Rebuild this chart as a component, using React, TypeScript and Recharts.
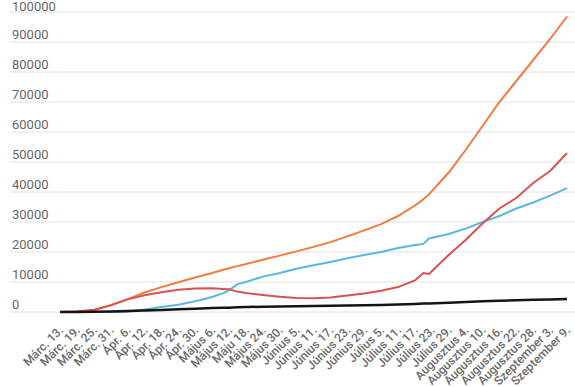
import { CartesianGrid, Line, LineChart, XAxis, YAxis } from 'recharts';

// napok Márc. 13-tól számolva
const days = [0, 6, 12, 18, 24, 30, 36, 42, 48, 54, 58, 60, 63, 66, 72, 78, 84, 90, 96, 102, 108, 114, 120, 126, 129, 131, 138, 144, 150, 156, 162, 168, 174, 180];

const osszes = [0, 150, 700, 2300, 4300, 6500, 8300, 9900, 11500, 13000, 14100, 14600, 15300, 16000, 17400, 18800, 20200, 21700, 23300, 25200, 27200, 29300, 32000, 35500, 37600, 39200, 46500, 54000, 62000, 70000, 77000, 84000, 91000, 98500];
const aktiv = [0, 150, 700, 2200, 4200, 5600, 6600, 7400, 7800, 7900, 7700, 7600, 6800, 6300, 5700, 5100, 4700, 4600, 4800, 5500, 6200, 7100, 8300, 10500, 13000, 12700, 19000, 24000, 29500, 34500, 38000, 43000, 47000, 53000];
const gyogyult = [0, 0, 0, 0, 100, 800, 1700, 2400, 3600, 5000, 6300, 7200, 9300, 10000, 11800, 13000, 14400, 15600, 16700, 17900, 19000, 20000, 21300, 22300, 22700, 24500, 26000, 27800, 30000, 32000, 34500, 36500, 38800, 41300];
const elhunyt = [0, 0, 100, 200, 350, 500, 700, 900, 1100, 1300, 1400, 1450, 1550, 1650, 1750, 1850, 1950, 2000, 2050, 2150, 2250, 2350, 2500, 2700, 2800, 2850, 3100, 3300, 3550, 3750, 3900, 4050, 4200, 4350];

const tickLabels = [
  'Márc. 13.', 'Márc. 19.', 'Márc. 25.', 'Márc. 31.', 'Ápr. 6.', 'Ápr. 12.', 'Ápr. 18.', 'Ápr. 24.', 'Ápr. 30.',
  'Május 6.', 'Május 12.', 'Máju 18.', 'Május 24.', 'Május 30.', 'Június 5.', 'Június 11.', 'Június 17.', 'Június 23.',
  'Június 29.', 'Július 5.', 'Július 11.', 'Július 17.', 'Július 23.', 'Július 29.', 'Augusztus 4.', 'Augusztus 10.',
  'Augusztus 16.', 'Augusztus 22.', 'Augusztus 28.', 'Szeptember 3.', 'Szeptember 9.',
];

const yTicks = [0, 10000, 20000, 30000, 40000, 50000, 60000, 70000, 80000, 90000, 100000];

const data = days.map((day, i) => ({
  day,
  osszes: osszes[i],
  aktiv: aktiv[i],
  gyogyult: gyogyult[i],
  elhunyt: elhunyt[i],
}));

const xTicks = tickLabels.map((_, i) => i * 6);

function XTick({ x, y, payload }: any) {
  const label = tickLabels[Math.round(payload.value / 6)];
  const ax = x + 4;
  const ay = y + 11;
  return (
    <text
      x={ax}
      y={ay}
      transform={`rotate(-45, ${ax}, ${ay})`}
      textAnchor="end"
      fontSize={12}
      fontFamily="Roboto, sans-serif"
      fontWeight={500}
      fill="#6a6a6a"
    >
      {label}
    </text>
  );
}

function YTick({ y, payload }: any) {
  return (
    <text x={12} y={Math.max(y - 3, 11)} textAnchor="start" fontSize={13} fontFamily="Roboto, sans-serif" fill="#666">
      {payload.value}
    </text>
  );
}

export default function App() {
  return (
    <div style={{ position: 'absolute', left: 0, top: 0, background: '#fff' }}>
      <LineChart width={575} height={387} data={data} margin={{ top: 12, right: 0, left: 9, bottom: 0 }}>
        <CartesianGrid vertical={false} stroke="#e2e2e2" />
        <XAxis
          type="number"
          dataKey="day"
          domain={[-17.75, 182.84]}
          ticks={xTicks}
          interval={0}
          tick={<XTick />}
          axisLine={false}
          tickLine={false}
          height={75}
          allowDataOverflow
        />
        <YAxis
          type="number"
          domain={[0, 100000]}
          ticks={yTicks}
          interval={0}
          width={1}
          tick={<YTick />}
          axisLine={false}
          tickLine={false}
        />
        <Line type="linear" dataKey="osszes" stroke="#f37a3f" strokeWidth={2} dot={false} isAnimationActive={false} />
        <Line type="linear" dataKey="gyogyult" stroke="#5db6dd" strokeWidth={2} dot={false} isAnimationActive={false} />
        <Line type="linear" dataKey="aktiv" stroke="#d9524f" strokeWidth={2} dot={false} isAnimationActive={false} />
        <Line type="linear" dataKey="elhunyt" stroke="#141414" strokeWidth={2.5} dot={false} isAnimationActive={false} />
      </LineChart>
    </div>
  );
}
